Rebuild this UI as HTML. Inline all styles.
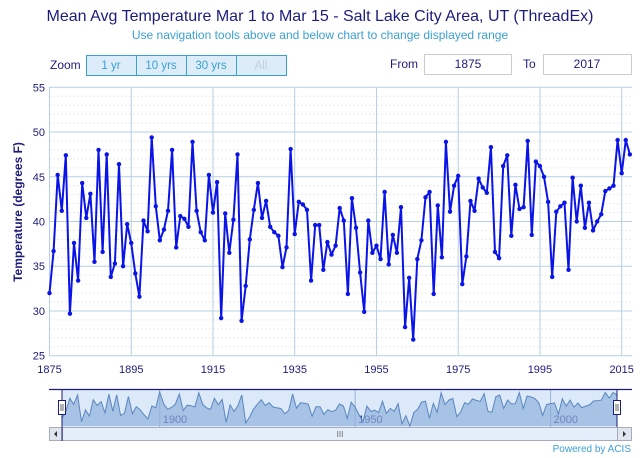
<!DOCTYPE html>
<html><head><meta charset="utf-8"><style>
body{margin:0;background:#fff;font-family:"Liberation Sans","DejaVu Sans",sans-serif;}
svg{display:block}
</style></head><body>
<svg id="c" width="640" height="458" xmlns="http://www.w3.org/2000/svg">
<text x="320" y="21" text-anchor="middle" font-size="16" fill="#1c1c7c">Mean Avg Temperature Mar 1 to Mar 15 - Salt Lake City Area, UT (ThreadEx)</text>
<text x="320" y="39" text-anchor="middle" font-size="12" fill="#3aa0d4">Use navigation tools above and below chart to change displayed range</text>
<text x="50" y="69" font-size="12" fill="#1c1c7c">Zoom</text>
<g><rect x="86.5" y="55.5" width="50" height="20" fill="#dcedf9" stroke="#3aa0d4"/><text x="111" y="69" text-anchor="middle" font-size="11.5" fill="#3aa0d4">1 yr</text></g>
<g><rect x="136.5" y="55.5" width="50" height="20" fill="#dcedf9" stroke="#3aa0d4"/><text x="161" y="69" text-anchor="middle" font-size="11.5" fill="#3aa0d4">10 yrs</text></g>
<g><rect x="186.5" y="55.5" width="50" height="20" fill="#dcedf9" stroke="#3aa0d4"/><text x="211" y="69" text-anchor="middle" font-size="11.5" fill="#3aa0d4">30 yrs</text></g>
<g><rect x="236.5" y="55.5" width="50" height="20" fill="#dcedf9" stroke="#3aa0d4"/><text x="261" y="69" text-anchor="middle" font-size="11.5" fill="#c0d0dc">All</text></g>
<text x="390" y="68" font-size="12" fill="#1c1c7c">From</text>
<g><rect x="424.5" y="54.5" width="87" height="20" fill="#fff" stroke="#ccc"/><text x="468" y="68" text-anchor="middle" font-size="12" fill="#1c1c7c">1875</text></g>
<text x="523" y="68" font-size="12" fill="#1c1c7c">To</text>
<g><rect x="543.5" y="54.5" width="88" height="20" fill="#fff" stroke="#ccc"/><text x="587" y="68" text-anchor="middle" font-size="12" fill="#1c1c7c">2017</text></g>
<g id="grid"></g><g id="plot"></g><g id="nav"></g>
<text x="10" y="0" transform="translate(22,222) rotate(-90)" text-anchor="middle" font-size="12" font-weight="bold" fill="#1c1c7c">Temperature (degrees F)</text>
<text x="631" y="452" text-anchor="end" font-size="10" fill="#3aa0d4">Powered by ACIS</text>
</svg>
<script>
const startYear = 1875;
const temps = [32,36.7,45.2,41.2,47.4,29.7,37.6,33.4,44.3,40.4,43.1,35.5,48.0,36.6,47.5,33.8,35.3,46.4,35.0,39.7,37.6,34.2,31.6,40.1,38.9,
49.4,41.7,37.9,39.1,41.2,48.0,37.1,40.6,40.3,39.4,48.9,41.2,38.8,37.9,45.2,41.0,44.4,
29.2,40.9,36.5,40.2,47.5,28.9,32.8,38.0,41.3,44.3,40.4,42.3,39.4,38.8,38.4,34.9,37.1,48.1,38.6,42.2,41.9,41.3,33.4,39.6,39.6,34.6,37.7,36.3,37.3,41.5,40.1,31.9,42.6,39.3,34.3,29.9,40.1,36.5,37.3,35.8,43.3,35.2,38.5,36.5,41.6,28.2,33.7,26.8,35.8,37.9,
42.7,43.3,31.9,41.8,36.0,48.9,41.1,44.0,45.1,33.0,36.1,42.3,41.2,44.8,43.8,43.2,48.3,36.6,35.9,46.2,47.4,38.4,44.1,41.4,41.6,49.0,38.5,46.7,46.2,45.0,42.2,33.8,41.1,41.7,42.1,34.6,44.9,40.0,44.0,39.3,42.1,39.0,40.0,40.8,43.4,43.7,44.0,49.1,45.4,49.1,47.5];
const xTicks = [1875,1895,1915,1935,1955,1975,1995,2015];
const yTicks = [25,30,35,40,45,50,55];
const navTicks = [1900,1950,2000];
const NS="http://www.w3.org/2000/svg";
const X0=49.5,X1=632,Y0=87.3,Y1=355.7,Xpy=4.087;
const xs=y=>X0+(y-1875)*Xpy;
const ys=v=>Y1-(v-25)*(Y1-Y0)/30;
function mk(t,a,p){const e=document.createElementNS(NS,t);for(const k in a)e.setAttribute(k,a[k]);p.appendChild(e);return e;}
const g=document.getElementById('grid'),pl=document.getElementById('plot'),nv=document.getElementById('nav');
for(let v=25;v<=55;v++){if(v%5)mk('line',{x1:X0,x2:X1,y1:ys(v),y2:ys(v),stroke:'#c8d8e4','stroke-dasharray':'1,3','stroke-width':1},g);}
yTicks.forEach(v=>{const l=mk('line',{x1:X0,x2:X1,y1:ys(v),y2:ys(v),stroke:'#b6d0e2','stroke-width':1},g);


const t=mk('text',{x:45,y:ys(v)+4,'text-anchor':'end','font-size':11,fill:'#1c1c7c'},g);t.textContent=v;

});
xTicks.forEach(yr=>{const l=mk('line',{x1:xs(yr),x2:xs(yr),y1:Y0,y2:Y1,stroke:'#b6d0e2','stroke-width':1},g);


const t=mk('text',{x:xs(yr),y:373,'text-anchor':'middle','font-size':11,fill:'#1c1c7c'},g);t.textContent=yr;

});
let d=temps.map((v,i)=>(i?'L':'M')+xs(startYear+i).toFixed(1)+','+ys(v).toFixed(1)).join('');
const line=mk('path',{d:d,fill:'none',stroke:'#0a14e6','stroke-width':2,'stroke-linejoin':'round'},pl);


temps.forEach((v,i)=>{const c=mk('circle',{cx:xs(startYear+i),cy:ys(v),r:2.2,fill:'#0a14e6'},pl);

});
const NX0=62,NX1=617,NY0=392,NY1=426;
const nx=y=>NX0+(y-1875)*(NX1-NX0)/142;
const mn=Math.min(...temps),mx=Math.max(...temps);
const ny=v=>NY1-(v-mn)/(mx-mn)*(NY1-NY0);
const bg=mk('rect',{x:NX0,y:389,width:NX1-NX0,height:38,fill:'#dce9f8'},nv);


navTicks.forEach(yr=>{mk('line',{x1:nx(yr),x2:nx(yr),y1:389,y2:427,stroke:'#9ab4d4'},nv);
const t=mk('text',{x:nx(yr)+3,y:423,'font-size':11,fill:'#1c1c7c'},nv);t.textContent=yr;

});
let nd=temps.map((v,i)=>(i?'L':'M')+nx(startYear+i).toFixed(1)+','+ny(v).toFixed(1)).join('');
const na=mk('path',{d:nd+'L'+NX1+','+NY1+'L'+NX0+','+NY1+'Z',fill:'#8fb0dc','fill-opacity':0.7},nv);


mk('path',{d:nd,fill:'none',stroke:'#5a86c0','stroke-width':1},nv);
mk('line',{x1:49,x2:632,y1:389.5,y2:389.5,stroke:'#1c1c7c','stroke-width':1.2},nv);
mk('line',{x1:NX0,x2:NX0,y1:389,y2:427,stroke:'#1c1c7c'},nv);
mk('line',{x1:NX1,x2:NX1,y1:389,y2:427,stroke:'#1c1c7c'},nv);
[NX0,NX1].forEach(x=>{const h=mk('rect',{x:x-3.5,y:400.5,width:7,height:14,fill:'#fff',stroke:'#1c1c7c'},nv);


mk('line',{x1:x-1,x2:x-1,y1:404,y2:411,stroke:'#666'},nv);mk('line',{x1:x+1,x2:x+1,y1:404,y2:411,stroke:'#666'},nv);});
const sb=mk('rect',{x:49.5,y:427.5,width:582,height:13,fill:'#e4eefa',stroke:'#aab'},nv);


const lb=mk('rect',{x:49.5,y:427.5,width:13,height:13,fill:'#e0e6f0',stroke:'#aab'},nv);


const rb=mk('rect',{x:617.5,y:427.5,width:14,height:13,fill:'#e0e6f0',stroke:'#aab'},nv);


mk('path',{d:'M57,431L54,434L57,437Z',fill:'#333'},nv);
mk('path',{d:'M623,431L626,434L623,437Z',fill:'#333'},nv);
mk('line',{x1:NX0,x2:NX0,y1:427,y2:441,stroke:'#1c1c7c'},nv);
const gr=mk('text',{x:340,y:437,'text-anchor':'middle','font-size':8,fill:'#666'},nv);gr.textContent='III';


</script>
</body></html>
